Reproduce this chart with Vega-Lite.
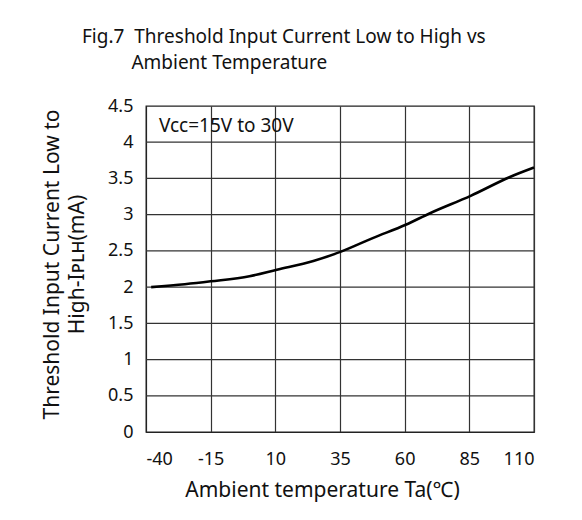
{
  "$schema": "https://vega.github.io/schema/vega-lite/v6.json",
  "autosize": {"type": "none"},
  "width": 388,
  "height": 326,
  "padding": {"left": 146, "top": 106, "right": 48, "bottom": 88},
  "background": "white",
  "title": {
    "text": ["Fig.7\u00a0\u00a0Threshold Input Current Low to High vs", "\u200b\u00a0\u00a0\u00a0\u00a0\u00a0\u00a0\u00a0\u00a0\u00a0\u00a0Ambient Temperature"],
    "anchor": "start",
    "frame": "group",
    "dx": -64,
    "offset": 24,
    "font": "Noto Sans",
    "fontSize": 19,
    "fontWeight": "normal",
    "lineHeight": 26,
    "color": "#111"
  },
  "config": {
    "font": "Noto Sans",
    "view": {"stroke": "#222", "strokeWidth": 1.3},
    "axis": {
      "labelFont": "Noto Sans",
      "titleFont": "Noto Sans",
      "labelFontSize": 18,
      "titleFontSize": 21,
      "titleFontWeight": "normal",
      "labelColor": "#111",
      "titleColor": "#111",
      "gridColor": "#333",
      "gridOpacity": 1,
      "gridWidth": 1.2,
      "domainColor": "#222",
      "ticks": false,
      "labelOverlap": false
    },
    "axisX": {"labelPadding": 18, "titlePadding": 11, "titleX": 176, "grid": true},
    "axisY": {"labelPadding": 13, "titlePadding": 20, "titleY": 158, "titleLineHeight": 25, "grid": false}
  },
  "layer": [
    {
      "data": {"values": [
        {"g": 0.5}, {"g": 1}, {"g": 1.5}, {"g": 2}, {"g": 2.5}, {"g": 3}, {"g": 3.5}, {"g": 4}
      ]},
      "mark": {"type": "rule", "color": "#333", "strokeWidth": 1.2},
      "encoding": {
        "y": {"field": "g", "type": "quantitative", "scale": {"domain": [0, 4.5], "nice": false}, "axis": {"values": [0, 0.5, 1, 1.5, 2, 2.5, 3, 3.5, 4, 4.5], "labelExpr": "'' + datum.value", "title": ["Threshold Input Current Low to", "High-Iᴘʟʜ(mA)"]}}
      }
    },
    {
      "data": {"values": [
        {"t": -38, "i": 2.0},
        {"t": -25, "i": 2.04},
        {"t": -15, "i": 2.08},
        {"t": 0, "i": 2.15},
        {"t": 10.6, "i": 2.24},
        {"t": 24.7, "i": 2.36},
        {"t": 35.4, "i": 2.49},
        {"t": 47.9, "i": 2.68},
        {"t": 60.4, "i": 2.86},
        {"t": 69.8, "i": 3.02},
        {"t": 85.5, "i": 3.26},
        {"t": 100.7, "i": 3.52},
        {"t": 110, "i": 3.65}
      ]},
      "mark": {"type": "line", "color": "#000", "strokeWidth": 2.6, "interpolate": "monotone"},
      "encoding": {
        "x": {"field": "t", "type": "quantitative", "scale": {"domain": [-40, 110], "nice": false, "zero": false}, "axis": {"values": [-40, -15, 10, 35, 60, 85, 110], "labelExpr": "'' + datum.value", "title": "Ambient temperature Ta(℃)"}},
        "y": {"field": "i", "type": "quantitative", "scale": {"domain": [0, 4.5], "nice": false}, "axis": {"values": [0, 0.5, 1, 1.5, 2, 2.5, 3, 3.5, 4, 4.5], "labelExpr": "'' + datum.value", "title": ["Threshold Input Current Low to", "High-Iᴘʟʜ(mA)"]}}
      }
    },
    {
      "data": {"values": [{"label": "Vcc=15V to 30V", "t": -35, "i": 4.22}]},
      "mark": {"type": "text", "align": "left", "baseline": "middle", "fontSize": 19, "color": "#111", "font": "Noto Sans"},
      "encoding": {
        "x": {"field": "t", "type": "quantitative", "scale": {"domain": [-40, 110], "nice": false, "zero": false}, "axis": {"values": [-40, -15, 10, 35, 60, 85, 110], "labelExpr": "'' + datum.value", "title": "Ambient temperature Ta(℃)"}},
        "y": {"field": "i", "type": "quantitative", "scale": {"domain": [0, 4.5], "nice": false}, "axis": {"values": [0, 0.5, 1, 1.5, 2, 2.5, 3, 3.5, 4, 4.5], "labelExpr": "'' + datum.value", "title": ["Threshold Input Current Low to", "High-Iᴘʟʜ(mA)"]}},
        "text": {"field": "label"}
      }
    }
  ]
}
